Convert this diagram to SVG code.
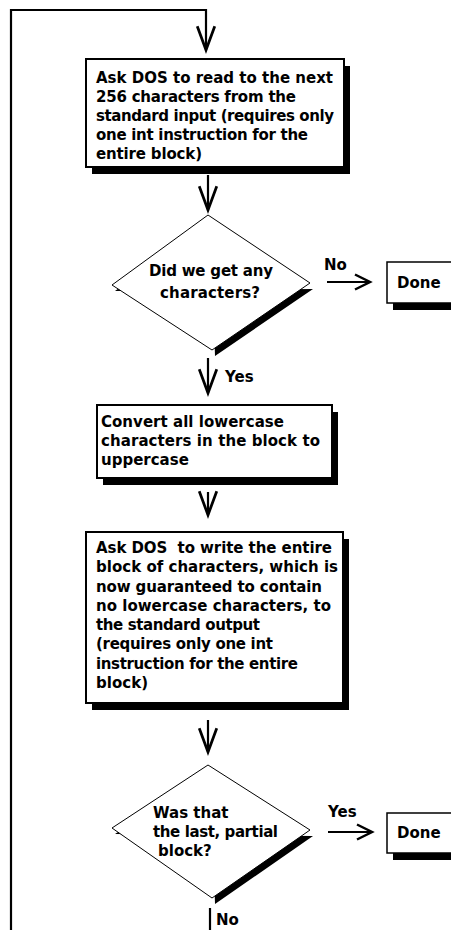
<svg xmlns="http://www.w3.org/2000/svg" width="451" height="930" viewBox="0 0 451 930">
<style>
.t{font-family:"DejaVu Sans",sans-serif;font-weight:bold;font-size:15px;fill:#000}
.box{fill:#fff;stroke:#000;stroke-width:2}
.done{fill:#fff;stroke:#000;stroke-width:1.5}
.sh{fill:#000}
.dia{fill:#fff;stroke:#000;stroke-width:1}
.c{fill:none;stroke:#000;stroke-width:2.2}
</style>
<defs>
<marker id="av" markerUnits="userSpaceOnUse" markerWidth="30" markerHeight="30" refX="0" refY="0" viewBox="-22 -10 24 20" orient="auto" overflow="visible">
<path d="M-19,-7 L0,0 L-19,7" fill="none" stroke="#000" stroke-width="2.2"/>
</marker>
<marker id="ah" markerUnits="userSpaceOnUse" markerWidth="20" markerHeight="20" refX="0" refY="0" viewBox="-14 -8 16 16" orient="auto" overflow="visible">
<path d="M-12,-6 L0,0 L-12,6" fill="none" stroke="#000" stroke-width="2"/>
</marker>
</defs>
<g id="connectors">
<path class="c" d="M11,930 V10 H206 V50" marker-end="url(#av)"/>
<path class="c" d="M208,175 V210" marker-end="url(#av)"/>
<path class="c" d="M208,358 V393" marker-end="url(#av)"/>
<path class="c" d="M208,492 V515" marker-end="url(#av)"/>
<path class="c" d="M208,720 V752" marker-end="url(#av)"/>
<path class="c" d="M327,282 H370" marker-end="url(#ah)"/>
<path class="c" d="M328,832 H372" marker-end="url(#ah)"/>
<path class="c" d="M210,908 V930"/>
<text class="t" x="225" y="382">Yes</text>
<text class="t" x="324" y="270">No</text>
<text class="t" x="328" y="817">Yes</text>
<text class="t" x="216" y="925">No</text>
</g>
<g id="read">
<rect class="sh" x="92" y="66" width="258" height="108"/>
<rect class="box" x="86" y="59" width="258" height="108"/>
<text class="t" x="96" y="83" textLength="237" lengthAdjust="spacing">Ask DOS to read to the next</text>
<text class="t" x="96" y="102" textLength="200" lengthAdjust="spacing">256 characters from the</text>
<text class="t" x="96" y="121" textLength="238" lengthAdjust="spacing">standard input (requires only</text>
<text class="t" x="96" y="140" textLength="212" lengthAdjust="spacing">one int instruction for the</text>
<text class="t" x="96" y="159" textLength="106" lengthAdjust="spacing">entire block)</text>
</g>
<g id="any">
<polygon class="sh" points="211,221 115,291 313,289 215,356"/>
<polygon class="dia" points="208,215 112,285 212,350 310,283"/>
<text class="t" x="149" y="276" textLength="124" lengthAdjust="spacing">Did we get any</text>
<text class="t" x="160" y="298" textLength="100" lengthAdjust="spacing">characters?</text>
</g>
<g id="done1">
<rect class="sh" x="393" y="269" width="70" height="41"/>
<rect class="done" x="387" y="262" width="80" height="41"/>
<text class="t" x="397" y="288">Done</text>
</g>
<g id="convert">
<rect class="sh" x="103" y="412" width="235" height="73"/>
<rect class="box" x="97" y="405" width="235" height="73"/>
<text class="t" x="101" y="427" textLength="183" lengthAdjust="spacing">Convert all lowercase</text>
<text class="t" x="101" y="446" textLength="219" lengthAdjust="spacing">characters in the block to</text>
<text class="t" x="101" y="465">uppercase</text>
</g>
<g id="write">
<rect class="sh" x="92" y="539" width="257" height="171"/>
<rect class="box" x="86" y="532" width="257" height="171"/>
<text class="t" x="96" y="553" xml:space="preserve" textLength="236" lengthAdjust="spacing">Ask DOS  to write the entire</text>
<text class="t" x="96" y="572" textLength="242" lengthAdjust="spacing">block of characters, which is</text>
<text class="t" x="96" y="592" textLength="226" lengthAdjust="spacing">now guaranteed to contain</text>
<text class="t" x="96" y="611" textLength="235" lengthAdjust="spacing">no lowercase characters, to</text>
<text class="t" x="96" y="630" textLength="164" lengthAdjust="spacing">the standard output</text>
<text class="t" x="96" y="649" textLength="177" lengthAdjust="spacing">(requires only one int</text>
<text class="t" x="96" y="669" textLength="202" lengthAdjust="spacing">instruction for the entire</text>
<text class="t" x="96" y="688" textLength="52" lengthAdjust="spacing">block)</text>
</g>
<g id="last">
<polygon class="sh" points="211,771 115,834 313,836 215,904"/>
<polygon class="dia" points="208,765 112,828 212,898 310,830"/>
<text class="t" x="153" y="818">Was that</text>
<text class="t" x="153" y="837" textLength="125" lengthAdjust="spacing">the last, partial</text>
<text class="t" x="158" y="856">block?</text>
</g>
<g id="done2">
<rect class="sh" x="393" y="820" width="70" height="40"/>
<rect class="done" x="387" y="813" width="80" height="40"/>
<text class="t" x="397" y="838">Done</text>
</g>
</svg>
